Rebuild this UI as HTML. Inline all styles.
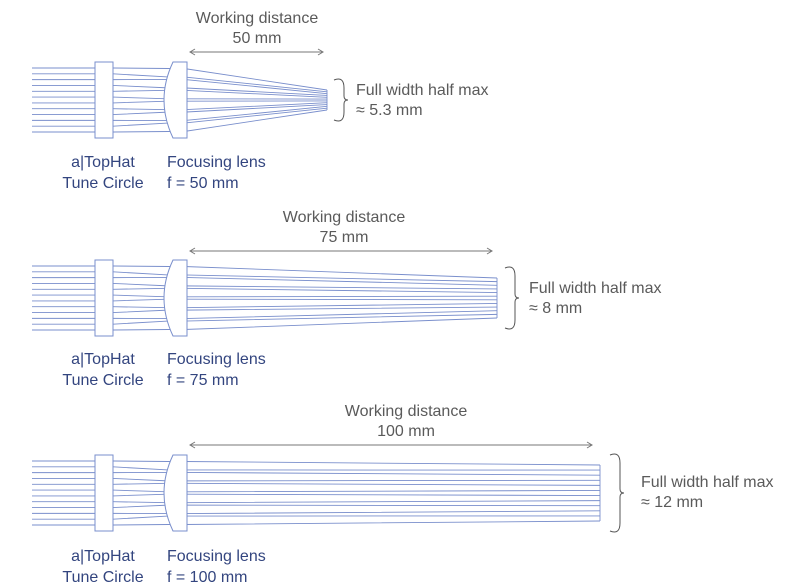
<!DOCTYPE html>
<html><head><style>
body{margin:0;background:#fff;}
svg{display:block;}
text{font-family:"Liberation Sans",sans-serif;font-size:16px;}
.g{fill:#5a5a5a;} .b{fill:#33457f;}
</style></head><body>
<svg id="s" width="800" height="588" viewBox="0 0 800 588" xmlns="http://www.w3.org/2000/svg">
<g id="rays" stroke="#7a8fcc" stroke-width="0.9" fill="none"></g>
<g id="opt"></g>
<text class="g" x="257" y="23" text-anchor="middle">Working distance</text>
<text class="g" x="257" y="43" text-anchor="middle">50 mm</text>
<text class="g" x="356" y="95">Full width half max</text>
<text class="g" x="356" y="115">≈ 5.3 mm</text>
<text class="b" x="103" y="167" text-anchor="middle">a|TopHat</text>
<text class="b" x="103" y="188" text-anchor="middle">Tune Circle</text>
<text class="b" x="167" y="167">Focusing lens</text>
<text class="b" x="167" y="188">f = 50 mm</text>

<text class="g" x="344" y="222" text-anchor="middle">Working distance</text>
<text class="g" x="344" y="242" text-anchor="middle">75 mm</text>
<text class="g" x="529" y="293">Full width half max</text>
<text class="g" x="529" y="313">≈ 8 mm</text>
<text class="b" x="103" y="364" text-anchor="middle">a|TopHat</text>
<text class="b" x="103" y="385" text-anchor="middle">Tune Circle</text>
<text class="b" x="167" y="364">Focusing lens</text>
<text class="b" x="167" y="385">f = 75 mm</text>

<text class="g" x="406" y="416" text-anchor="middle">Working distance</text>
<text class="g" x="406" y="436" text-anchor="middle">100 mm</text>
<text class="g" x="641" y="487">Full width half max</text>
<text class="g" x="641" y="507">≈ 12 mm</text>
<text class="b" x="103" y="561" text-anchor="middle">a|TopHat</text>
<text class="b" x="103" y="582" text-anchor="middle">Tune Circle</text>
<text class="b" x="167" y="561">Focusing lens</text>
<text class="b" x="167" y="582">f = 100 mm</text>
</svg>
<script>
var ns="http://www.w3.org/2000/svg";
var R=document.getElementById("rays"),O=document.getElementById("opt");
function el(p,t,a){var e=document.createElementNS(ns,t);for(var k in a)e.setAttribute(k,a[k]);p.appendChild(e);return e;}
var P=[{c:100,ex:327,sp:10,ay:52,ax:323,bx:344},{c:298,ex:497,sp:20,ay:251,ax:492,bx:515},{c:493,ex:600,sp:28,ay:445,ax:592,bx:620}];
P.forEach(function(p){
 var n=12;
 for(var i=0;i<n;i++){
  var f=(i-(n-1)/2)/((n-1)/2);
  var y0=p.c+f*32;
  var y1=p.c+f*30+(i%2?1.5:-1.5);
  var y2=p.c+f*p.sp;
  el(R,"path",{d:"M32 "+y0+" L95 "+y0+" M113 "+y0+" L168 "+y1+" L184 "+y1+" L"+p.ex+" "+y2});
 }
 el(R,"line",{x1:p.ex,y1:p.c-p.sp,x2:p.ex,y2:p.c+p.sp});
 el(O,"rect",{x:95,y:p.c-38,width:18,height:76,fill:"#fff",stroke:"#7a8fcc","stroke-width":1});
 el(O,"path",{d:"M173 "+(p.c-38)+" L187 "+(p.c-38)+" L187 "+(p.c+38)+" L173 "+(p.c+38)+" Q155 "+p.c+" 173 "+(p.c-38)+"Z",fill:"#fff",stroke:"#7a8fcc","stroke-width":1});
 el(O,"line",{x1:190,y1:p.ay,x2:p.ax,y2:p.ay,stroke:"#777","stroke-width":1});
 el(O,"path",{d:"M195 "+(p.ay-3)+" L190 "+p.ay+" L195 "+(p.ay+3)+" M"+(p.ax-5)+" "+(p.ay-3)+" L"+p.ax+" "+p.ay+" L"+(p.ax-5)+" "+(p.ay+3),stroke:"#777",fill:"none"});
 var h=p.sp+12,x=p.bx;
 el(O,"path",{d:"M"+(x-10)+" "+(p.c-h+2)+" Q"+x+" "+(p.c-h-2)+" "+x+" "+(p.c-h+10)+" L"+x+" "+(p.c-4)+" Q"+x+" "+p.c+" "+(x+4)+" "+p.c+" Q"+x+" "+p.c+" "+x+" "+(p.c+4)+" L"+x+" "+(p.c+h-10)+" Q"+x+" "+(p.c+h+2)+" "+(x-10)+" "+(p.c+h-2),stroke:"#555",fill:"none","stroke-width":1});
});
</script>
</body></html>
